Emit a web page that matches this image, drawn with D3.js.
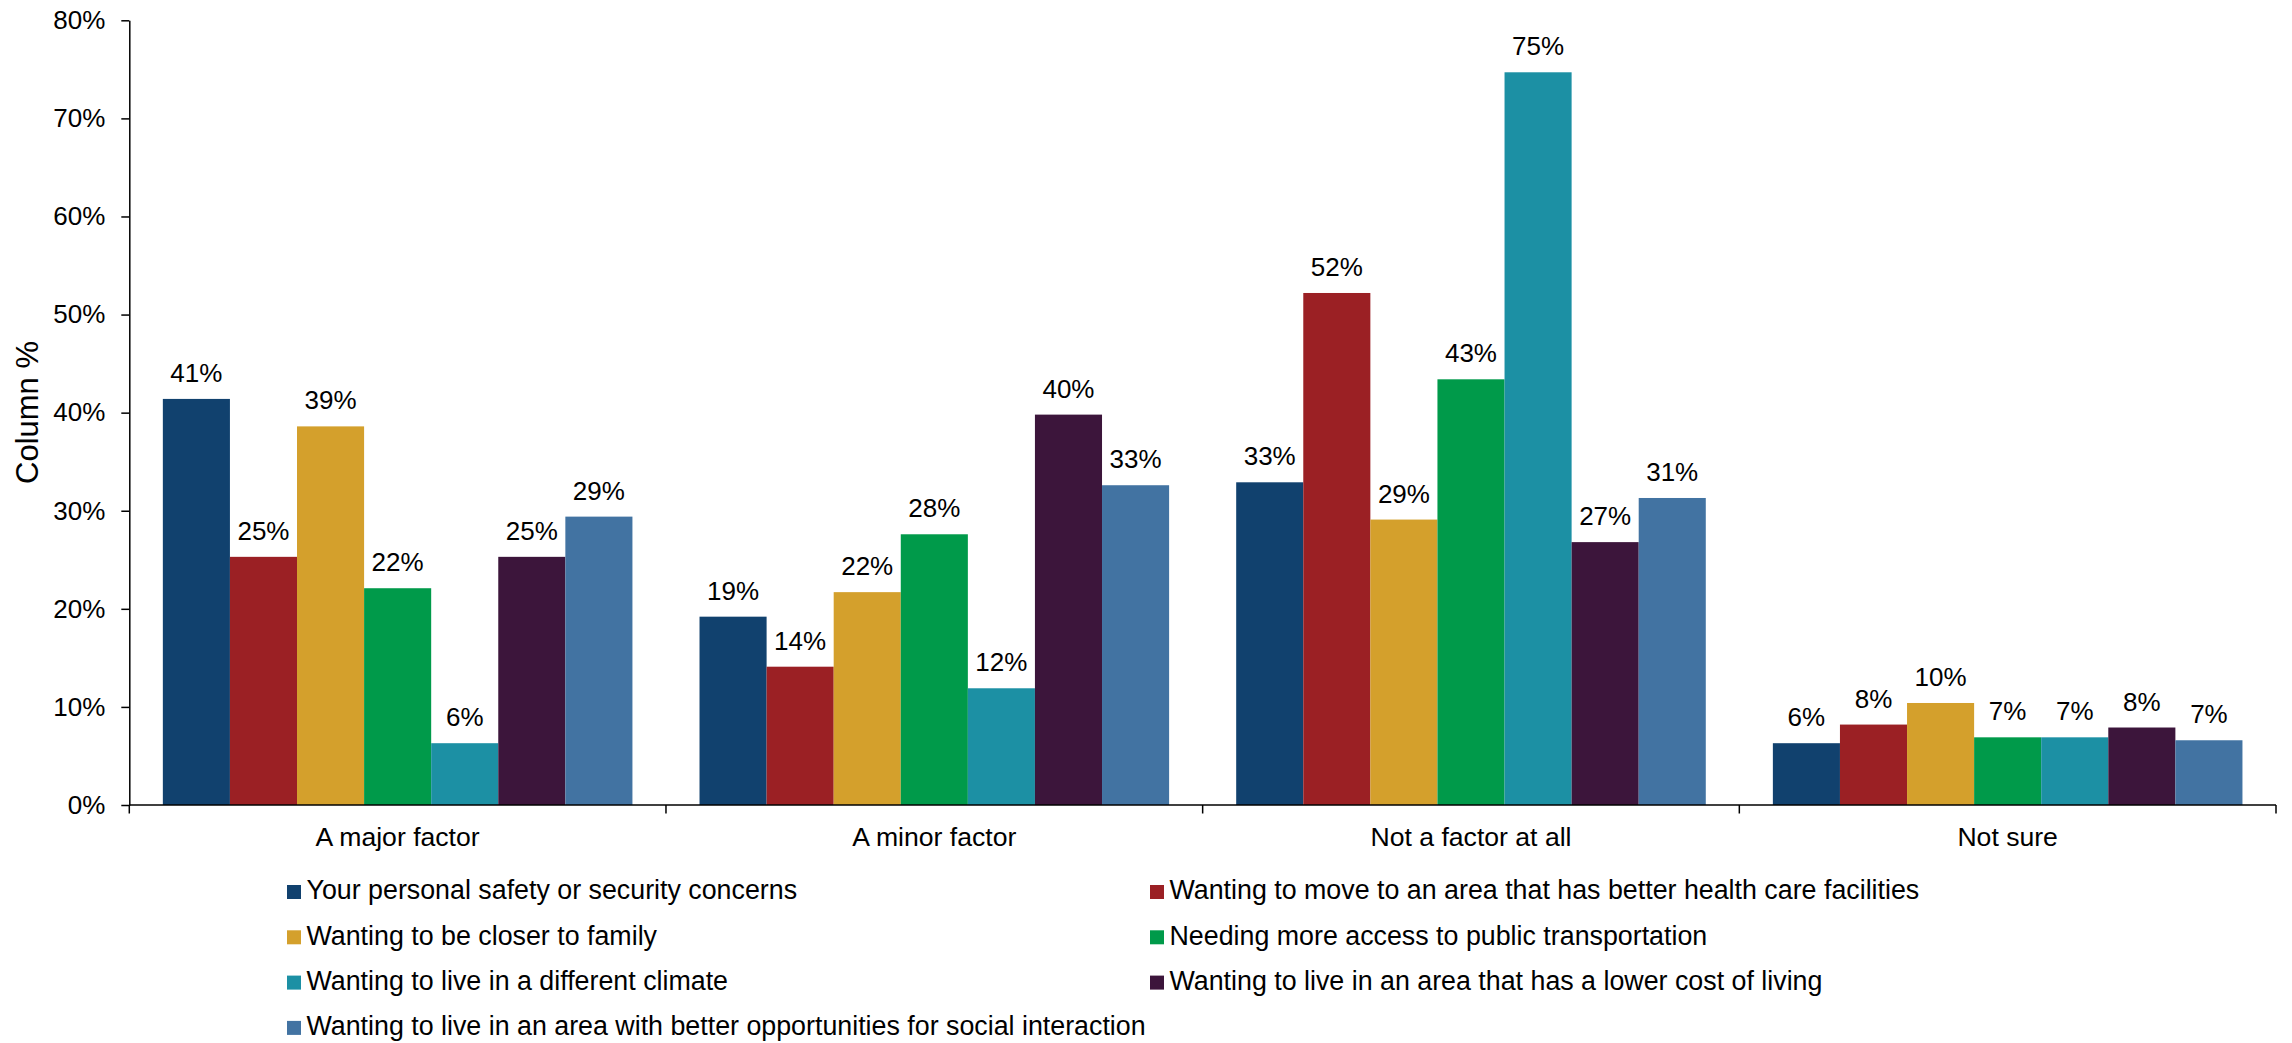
<!DOCTYPE html>
<html>
<head>
<meta charset="utf-8">
<script src="https://cdn.jsdelivr.net/npm/d3@7"></script>
<style>
  html, body { margin: 0; padding: 0; background: #fff; }
  svg { display: block; font-family: "Liberation Sans", Arial, sans-serif; }
</style>
</head>
<body>
<svg id="chart" width="2292" height="1043"></svg>
<script>
const categories = ["A major factor", "A minor factor", "Not a factor at all", "Not sure"];
const seriesNames = [
  "Your personal safety or security concerns",
  "Wanting to move to an area that has better health care facilities",
  "Wanting to be closer to family",
  "Needing more access to public transportation",
  "Wanting to live in a different climate",
  "Wanting to live in an area that has a lower cost of living",
  "Wanting to live in an area with better opportunities for social interaction"
];
const safety    = [41.4, 19.2, 32.9, 6.3];
const health    = [25.3, 14.1, 52.2, 8.2];
const family    = [38.6, 21.7, 29.1, 10.4];
const transport = [22.1, 27.6, 43.4, 6.9];
const climate   = [6.3, 11.9, 74.7, 6.9];
const cost      = [25.3, 39.8, 26.8, 7.9];
const social    = [29.4, 32.6, 31.3, 6.6];
const seriesValues = [safety, health, family, transport, climate, cost, social];
const colors = ["#11416E", "#9B2024", "#D4A02C", "#009A4A", "#1C90A4", "#3C153B", "#4273A2"];
const yTicks = [0, 10, 20, 30, 40, 50, 60, 70, 80];
const yTitle = "Column %";

(function () {
const svg = d3.select("#chart");
const pLeft = 129.3, pRight = 2276, pTop = 20.3, pBottom = 805;
const FONT = 26;

const x0 = d3.scaleBand().domain(categories).range([pLeft, pRight]).padding(0);
const x1 = d3.scaleBand().domain(d3.range(seriesNames.length)).range([0, x0.bandwidth()])
  .paddingInner(0).paddingOuter(0.5);
const y = d3.scaleLinear().domain([0, 80]).range([pBottom, pTop]);

const data = [];
seriesValues.forEach((vals, si) => vals.forEach((v, ci) => data.push({si, ci, v})));

svg.append("g").selectAll("rect").data(data).join("rect")
  .attr("x", d => x0(categories[d.ci]) + x1(d.si))
  .attr("y", d => y(d.v))
  .attr("width", x1.bandwidth())
  .attr("height", d => y(0) - y(d.v))
  .attr("fill", d => colors[d.si]);

svg.append("g").selectAll("text").data(data).join("text")
  .attr("x", d => x0(categories[d.ci]) + x1(d.si) + x1.bandwidth() / 2)
  .attr("y", d => y(d.v) - 17)
  .attr("text-anchor", "middle")
  .attr("font-size", FONT)
  .attr("fill", "#000")
  .text(d => d3.format(".0f")(d.v) + "%");

const yAxis = d3.axisLeft(y).tickValues(yTicks).tickFormat(d => d + "%")
  .tickSize(8).tickSizeOuter(0).tickPadding(16);
const yg = svg.append("g").attr("transform", `translate(${pLeft},0)`).call(yAxis);
yg.selectAll("text").attr("font-size", FONT).attr("fill", "#000").attr("font-family", "Liberation Sans, Arial, sans-serif");
yg.selectAll("line, path").attr("stroke", "#000").attr("stroke-width", 1.5);

const xg = svg.append("g").attr("transform", `translate(0,${pBottom})`);
xg.append("line").attr("x1", pLeft).attr("x2", pRight).attr("y1", 0).attr("y2", 0)
  .attr("stroke", "#000").attr("stroke-width", 1.5);
const boundaries = categories.map(c => x0(c)).concat([pRight]);
xg.selectAll("line.tk").data(boundaries).join("line").attr("class", "tk")
  .attr("x1", d => d).attr("x2", d => d).attr("y1", 0).attr("y2", 8.5)
  .attr("stroke", "#000").attr("stroke-width", 1.5);
xg.selectAll("text").data(categories).join("text")
  .attr("x", d => x0(d) + x0.bandwidth() / 2)
  .attr("y", 41)
  .attr("text-anchor", "middle")
  .attr("font-size", 26.6)
  .attr("fill", "#000")
  .text(d => d);

svg.append("text")
  .attr("transform", `translate(37.5,412.5) rotate(-90)`)
  .attr("text-anchor", "middle")
  .attr("font-size", 31)
  .attr("fill", "#000")
  .text(yTitle);

const legendCols = [287, 1150];
const legendRow0 = 892, legendStep = 45.3;
const lg = svg.append("g").selectAll("g").data(seriesNames).join("g")
  .attr("transform", (d, i) => `translate(${legendCols[i % 2]},${legendRow0 + Math.floor(i / 2) * legendStep})`);
lg.append("rect").attr("x", 0).attr("y", -7).attr("width", 14).attr("height", 14)
  .attr("fill", (d, i) => colors[i]);
lg.append("text").attr("x", 19.5).attr("y", 7.3)
  .attr("font-size", 26.8).attr("fill", "#000").text(d => d);
})();
</script>
</body>
</html>
